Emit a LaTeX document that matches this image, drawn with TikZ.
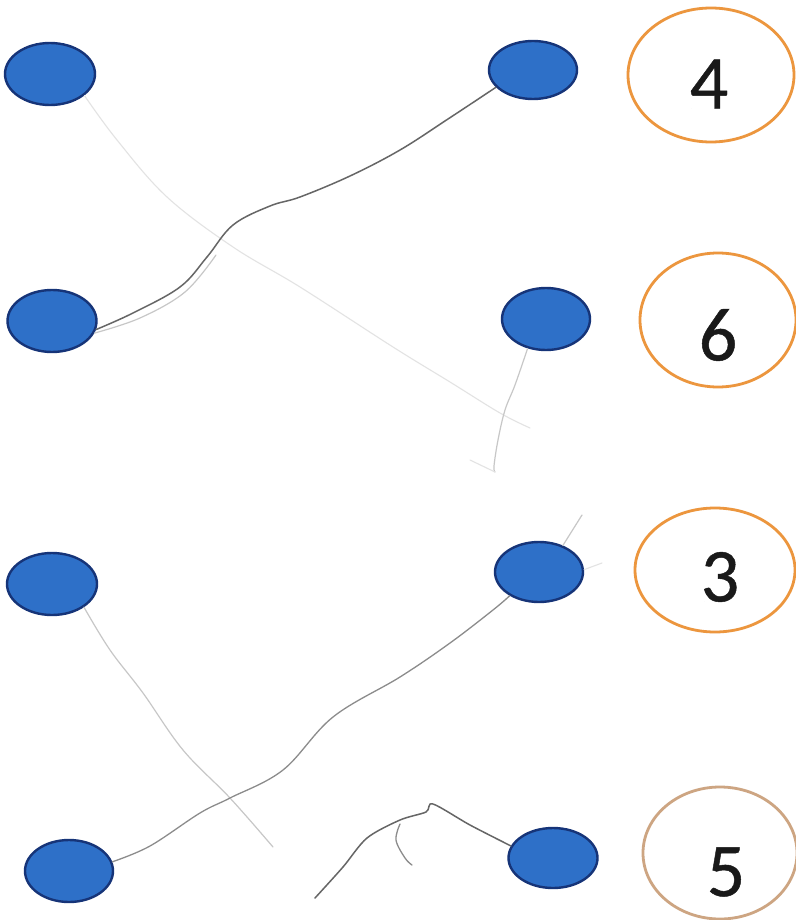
\documentclass[tikz,border=0pt]{standalone}
\usepackage{fontspec}
\setmainfont{Carlito}
\newfontfamily\digitfont[FakeBold=0.6]{Carlito}
\usetikzlibrary{shapes.geometric}
\definecolor{dotfill}{RGB}{46,112,200}
\definecolor{dotline}{RGB}{22,52,120}
\definecolor{ringor}{RGB}{236,150,62}
\definecolor{ringtan}{RGB}{205,165,130}
\tikzset{
  dot/.style={ellipse, fill=dotfill, draw=dotline, line width=2.4pt, minimum width=88pt, minimum height=60pt, inner sep=0pt},
  ring/.style={ellipse, draw=ringor, line width=2.8pt, inner sep=0pt},
  digit/.style={font=\digitfont\fontsize{76}{80}\selectfont, inner sep=0pt, text=black!90},
  pencildark/.style={draw=black!60, line width=1.5pt, line cap=round, line join=round},
  pencilmid/.style={draw=black!45, line width=1.3pt, line cap=round, line join=round},
  pencillight/.style={draw=black!22, line width=1.2pt, line cap=round, line join=round},
  pencilfaint/.style={draw=black!11, line width=1.1pt, line cap=round, line join=round}
}
\begin{document}
\begin{tikzpicture}[x=1pt,y=-1pt]
\useasboundingbox (0,0) rectangle (795,920);
\fill[white] (0,0) rectangle (795,920);
% left column
\node[dot, minimum width=90pt, minimum height=62pt] (L1) at (50,74) {};
\node[dot, minimum width=89pt, minimum height=62pt] (L2) at (52,321) {};
\node[dot, minimum width=90pt, minimum height=62pt] (L3) at (52,584) {};
\node[dot, minimum width=88pt, minimum height=62pt] (L4) at (69,871) {};
% right column
\node[dot, minimum height=58pt] (R1) at (533,70) {};
\node[dot, minimum height=62pt] (R2) at (546,319) {};
\node[dot] (R3) at (539,572) {};
\node[dot, minimum width=89pt] (R4) at (553,858) {};
% rings
\node[ring, minimum width=166pt, minimum height=134pt] (O1) at (711,75) {};
\node[ring, minimum width=156pt, minimum height=134pt] (O2) at (718,320) {};
\node[ring, minimum width=160pt, minimum height=124pt] (O3) at (715,570) {};
\node[ring, draw=ringtan, minimum width=154pt, minimum height=132pt] (O4) at (720,853) {};
\node[digit] (D4) at (709,84) {4};
\node[digit] (D6) at (718,335) {6};
\node[digit] (D3) at (720,577) {3};
\node[digit] (D5) at (726,872) {5};
% free ends
\coordinate (e1) at (530,428);
\coordinate (e2) at (495,472);
\coordinate (e3) at (273,847);
\coordinate (e4) at (315,898);
\coordinate (e5) at (582,515);
\coordinate (e6) at (602,563);
\coordinate (e7) at (412,865);
\coordinate (e8) at (400,824);
\coordinate (e9) at (470,460);
\coordinate (e10) at (216,255);
% connectors (pencil)
\draw[pencilfaint] plot[smooth, tension=0.6] coordinates {(L1.-32) (117,140) (167,197) (233,247) (300,287) (393,347) (450,382) (500,413) (e1)};
\draw[pencildark] plot[smooth, tension=0.6] coordinates {(L2.-11) (133,313) (180,287) (207,257) (233,225) (270,206) (300,197) (350,176) (400,150) (448,119) (R1.205)};
\draw[pencillight] plot[smooth, tension=0.6] coordinates {(L2.-16) (140,318) (185,292) (e10)};
\draw[pencillight] plot[smooth, tension=0.6] coordinates {(R2.238) (515,385) (505,410) (498,440) (494,466) (e2)};
\draw[pencilfaint] (e9) -- (e2);
\draw[pencillight] plot[smooth, tension=0.6] coordinates {(L3.-36) (110,650) (143,693) (183,750) (230,798) (e3)};
\draw[pencilmid] plot[smooth, tension=0.6] coordinates {(R3.219) (493,610) (450,643) (400,677) (333,717) (283,770) (230,798) (200,813) (150,846) (L4.12)};
\draw[pencildark] plot[smooth, tension=0.5] coordinates {(R4.164) (470,825) (433,804) (426,812) (400,820) (367,838) (343,867) (e4)};
\draw[pencilmid] plot[smooth, tension=0.6] coordinates {(e8) (396,840) (405,858) (e7)};
\draw[pencillight] (R3.48) -- (e5);
\draw[pencilfaint] (R3.3) -- (e6);
\end{tikzpicture}
\end{document}
